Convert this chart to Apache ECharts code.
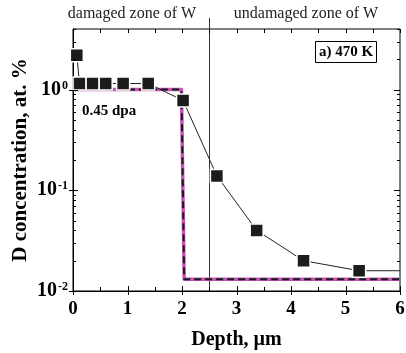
<!DOCTYPE html>
<html>
<head>
<meta charset="utf-8">
<script src="https://cdn.jsdelivr.net/npm/echarts@6/dist/echarts.min.js"></script>
<style>html,body{margin:0;padding:0;background:#fff}#c{width:406px;height:353px}</style>
</head>
<body>
<div id="c"></div>
<script>
// ---- data ----
const xMin = 0, xMax = 6, yMin = 0.01, yMax = 4;
const measuredDepth = [0.07, 0.12, 0.36, 0.6, 0.92, 1.38, 2.02, 2.64, 3.37, 4.23, 5.25, 6.0];
const measuredConc  = [2.2, 1.15, 1.15, 1.15, 1.15, 1.15, 0.78, 0.139, 0.040, 0.020, 0.0159, 0.0159];
const fitDepth = [0, 1.99, 2.04, 6];
const fitConc  = [1.0, 1.0, 0.0131, 0.0131];
const boundaryDepth = 2.5;
const xTickValues = [0, 0.5, 1, 1.5, 2, 2.5, 3, 3.5, 4, 4.5, 5, 5.5, 6];
const yMajorTicks = [0.01, 0.1, 1];
const yMinorTicks = [0.02,0.03,0.04,0.05,0.06,0.07,0.08,0.09,0.2,0.3,0.4,0.5,0.6,0.7,0.8,0.9,2,3,4];
const labelDamaged = 'damaged zone of W';
const labelUndamaged = 'undamaged zone of W';
const labelPanel = 'a) 470 K';
const labelDpa = '0.45 dpa';

const FONT = 'Liberation Serif';
const chart = echarts.init(document.getElementById('c'), null, {renderer: 'canvas'});

const measured = measuredDepth.map((x, i) => {
  const item = {value: [x, measuredConc[i]]};
  if (i === measuredDepth.length - 1) item.symbol = 'none';
  return item;
});
const fit = fitDepth.map((x, i) => [x, fitConc[i]]);

const yTickData = yMajorTicks.map(v => [xMin, v, 1]).concat(yMinorTicks.map(v => [xMin, v, 0]));
const xTickData = xTickValues.map(v => [v, yMin, Number.isInteger(v) ? 1 : 0]);

function ln(x1, y1, x2, y2) {
  return {type: 'line', shape: {x1, y1, x2, y2}, style: {stroke: '#000', lineWidth: 1}};
}

function renderYTick(params, api) {
  const v = api.value(1), major = api.value(2);
  const l = api.coord([xMin, v]), r = api.coord([xMax, v]);
  const y = Math.round(l[1]) + 0.5;
  return {type: 'group', children: [
    ln(l[0] - (major ? 4 : 0), y, l[0] + (major ? 5 : 3), y),
    ln(r[0] - (major ? 6 : 3), y, r[0], y)
  ]};
}
function renderXTick(params, api) {
  const v = api.value(0), major = api.value(2);
  const b = api.coord([v, yMin]), t = api.coord([v, yMax]);
  const x = Math.round(b[0]) + 0.5;
  return {type: 'group', children: [
    ln(x, b[1] + (major ? 4 : 0), x, b[1] - (major ? 5 : 4)),
    ln(x, t[1], x, t[1] + 4)
  ]};
}
function renderBoundary(params, api) {
  const v = api.value(0);
  const b = api.coord([v, yMin]), t = api.coord([v, yMax]);
  const x = Math.round(b[0]) + 0.5;
  return {type: 'line', shape: {x1: x, y1: b[1], x2: x, y2: t[1] - 11}, style: {stroke: '#333', lineWidth: 1}};
}

chart.setOption({
  animation: false,
  backgroundColor: '#fff',
  grid: {left: 73, right: 6, top: 29, bottom: 62, show: true, borderColor: '#000', borderWidth: 1,
         backgroundColor: 'transparent', containLabel: false, outerBoundsMode: 'none'},
  xAxis: {
    type: 'value', min: xMin, max: xMax, interval: 1,
    axisLine: {show: true, onZero: false, lineStyle: {color: '#000', width: 1}},
    axisTick: {show: false}, splitLine: {show: false},
    axisLabel: {color: '#000', fontFamily: FONT, fontWeight: 'bold', fontSize: 19, margin: 9},
    name: 'Depth, µm', nameLocation: 'middle', nameGap: 39,
    nameTextStyle: {color: '#000', fontFamily: FONT, fontWeight: 'bold', fontSize: 20}
  },
  yAxis: {
    type: 'log', logBase: 10, min: yMin, max: yMax,
    axisLine: {show: true, lineStyle: {color: '#000', width: 1}},
    axisTick: {show: false}, splitLine: {show: false}, minorTick: {show: false},
    axisLabel: {
      margin: 5,
      formatter: function (v) {
        const e = Math.log10(v), r = Math.round(e);
        if (Math.abs(e - r) > 1e-6) return '';
        return '{b|10}{s|' + r + '}';
      },
      rich: {
        b: {color: '#000', fontFamily: FONT, fontWeight: 'bold', fontSize: 20, lineHeight: 20},
        s: {color: '#000', fontFamily: FONT, fontWeight: 'bold', fontSize: 12, lineHeight: 20, verticalAlign: 'top', padding: [0, 0, 8, 1]}
      }
    },
    name: 'D concentration, at. %', nameLocation: 'middle', nameGap: 42, nameMoveOverlap: false,
    nameTextStyle: {color: '#000', fontFamily: FONT, fontWeight: 'bold', fontSize: 21}
  },
  graphic: [
    {type: 'text', style: {text: labelDamaged, x: 132, y: 14, align: 'center', verticalAlign: 'middle', font: '16px "Liberation Serif"', fill: '#222'}},
    {type: 'text', style: {text: labelUndamaged, x: 306, y: 14, align: 'center', verticalAlign: 'middle', font: '16px "Liberation Serif"', fill: '#222'}},
    {type: 'rect', shape: {x: 315.5, y: 41.5, width: 61, height: 21}, style: {fill: '#fff', stroke: '#000', lineWidth: 1}, z: 10},
    {type: 'text', style: {text: labelPanel, x: 346, y: 52.5, align: 'center', verticalAlign: 'middle', font: 'bold 15px "Liberation Serif"', fill: '#000'}, z: 11},
    {type: 'text', style: {text: labelDpa, x: 82, y: 111, align: 'left', verticalAlign: 'middle', font: 'bold 15px "Liberation Serif"', fill: '#000'}, z: 11}
  ],
  series: [
    {type: 'custom', renderItem: renderBoundary, data: [[boundaryDepth, yMin]], clip: false, silent: true, z: 1},
    {type: 'line', data: fit, symbol: 'none', lineStyle: {color: '#c653b6', width: 3.5, join: 'round'}, z: 2},
    {type: 'line', data: fit, symbol: 'none', lineStyle: {color: '#1a1a1a', width: 2, type: [7, 4]}, z: 3},
    {type: 'line', data: measured, symbol: 'rect', symbolSize: 13,
      lineStyle: {color: '#222', width: 1},
      itemStyle: {color: '#1c1c1c', borderColor: '#fff', borderWidth: 1.5}, z: 4},
    {type: 'custom', renderItem: renderYTick, data: yTickData, clip: false, silent: true, z: 5},
    {type: 'custom', renderItem: renderXTick, data: xTickData, clip: false, silent: true, z: 5}
  ]
});
</script>
</body>
</html>
